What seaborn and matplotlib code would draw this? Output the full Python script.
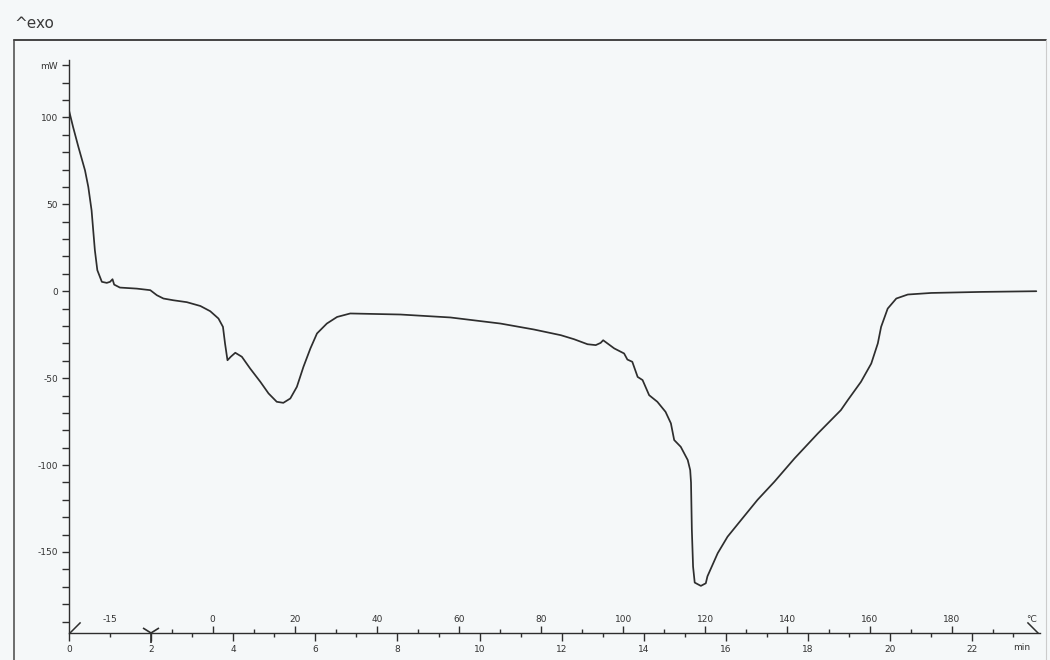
import numpy as np
import pandas as pd
import matplotlib
matplotlib.use("Agg")
import matplotlib.pyplot as plt
from matplotlib.lines import Line2D
from matplotlib.ticker import FixedLocator, NullFormatter, FixedFormatter
import seaborn as sns

# ---- data ----
time_min = [0.00, 0.10, 0.23, 0.39, 0.47, 0.55, 0.59, 0.63, 0.69, 0.80, 0.92, 1.00,
            1.06, 1.10, 1.24, 1.65, 1.98, 2.14, 2.30, 2.54, 2.87, 3.20, 3.44, 3.64,
            3.75, 3.80, 3.86, 3.94, 4.05, 4.21, 4.41, 4.66, 4.86, 5.06, 5.22, 5.39,
            5.55, 5.71, 5.88, 6.04, 6.28, 6.53, 6.85, 8.07, 9.29, 10.51, 11.32, 11.98,
            12.30, 12.63, 12.83, 12.95, 13.01, 13.28, 13.52, 13.60, 13.72, 13.85, 13.97,
            14.13, 14.33, 14.53, 14.66, 14.74, 14.90, 15.07, 15.13, 15.15, 15.17, 15.20,
            15.24, 15.39, 15.51, 15.55, 15.80, 16.04, 16.37, 16.77, 17.18, 17.67, 18.24,
            18.80, 18.97, 19.29, 19.54, 19.70, 19.78, 19.94, 20.15, 20.43, 21.00, 22.22,
            23.56]
heat_flow_mw = [104.0, 94.4, 82.9, 69.5, 60.0, 46.5, 35.0, 23.6, 12.1, 5.4, 4.8, 5.4,
                6.9, 3.8, 2.1, 1.5, 0.6, -2.3, -4.2, -5.2, -6.3, -8.5, -11.5, -15.7,
                -20.5, -30.0, -39.7, -37.7, -35.4, -37.7, -44.4, -52.1, -58.8, -63.6, -64.2, -61.7,
                -55.0, -43.5, -32.9, -24.3, -18.6, -14.8, -12.8, -13.4, -15.1, -18.6, -22.0, -25.3,
                -27.6, -30.5, -31.0, -29.7, -28.2, -32.9, -35.8, -39.3, -40.6, -49.3, -51.1,
                -59.8, -63.6, -69.4, -76.0, -85.6, -89.5, -97.1, -102.9, -110.0, -137.0, -158.4,
                -167.6, -169.5, -168.0, -164.0, -150.7, -141.2, -131.6, -120.0, -109.6, -96.2, -81.8,
                -68.4, -62.6, -52.1, -41.6, -30.0, -20.5, -10.0, -4.2, -1.9, -1.0, -0.4,
                0.0]

time_major_ticks = [0, 2, 4, 6, 8, 10, 12, 14, 16, 18, 20, 22]
time_minor_ticks = [1, 3, 5, 7, 9, 11, 13, 15, 17, 19, 21, 23]
temp_labels = ["-15", "0", "20", "40", "60", "80", "100", "120", "140", "160", "180"]
temp_label_times = [1.0, 3.5, 5.5, 7.5, 9.5, 11.5, 13.5, 15.5, 17.5, 19.5, 21.5]
temp_minor_times = [2.5, 4.5, 6.5, 8.5, 10.5, 12.5, 14.5, 16.5, 18.5, 20.5, 22.5]
y_major_ticks = [-150, -100, -50, 0, 50, 100, 130]
y_major_labels = ["-150", "-100", "-50", "0", "50", "100", "mW"]
y_minor_ticks = list(range(-190, 131, 10))

df = pd.DataFrame({"time": time_min, "mW": heat_flow_mw})

# ---- style ----
sns.set_theme(style="white")
plt.rcParams["font.family"] = ["DejaVu Sans"]
bg = "#f5f8f9"
ink = "#2e2e2e"
txt = "#333333"

W, H = 1050, 660
fig = plt.figure(figsize=(10.5, 6.6), dpi=100, facecolor=bg)

ax_l, ax_r, ax_t, ax_b = 69, 1040, 60, 633
XLIM = (0, 23.65)
ax = fig.add_axes([ax_l / W, 1 - ax_b / H, (ax_r - ax_l) / W, (ax_b - ax_t) / H])
ax.set_facecolor("none")

sns.lineplot(data=df, x="time", y="mW", color=ink, linewidth=1.25, ax=ax,
             estimator=None, sort=False)

ax.set_xlim(*XLIM)
ax.set_ylim(-196.6, 133)
ax.set_xlabel("")
ax.set_ylabel("")

for s in ["top", "right"]:
    ax.spines[s].set_visible(False)
for s in ["left", "bottom"]:
    ax.spines[s].set_color(ink)
    ax.spines[s].set_linewidth(1.0)

# y ticks
ax.yaxis.set_major_locator(FixedLocator(y_major_ticks))
ax.yaxis.set_major_formatter(FixedFormatter(y_major_labels))
ax.yaxis.set_minor_locator(FixedLocator(y_minor_ticks))
ax.tick_params(axis="y", which="both", direction="out", length=5, width=1.0,
               color=ink, labelsize=6.5, labelcolor=txt, left=True, pad=3)

# x (time) ticks below
ax.xaxis.set_major_locator(FixedLocator(time_major_ticks))
ax.xaxis.set_major_formatter(FixedFormatter([str(v) for v in time_major_ticks]))
ax.xaxis.set_minor_locator(FixedLocator(time_minor_ticks))
ax.xaxis.set_minor_formatter(NullFormatter())
ax.tick_params(axis="x", which="major", direction="out", length=6, width=1.0,
               color=ink, labelsize=6.5, labelcolor=txt, bottom=True, pad=3)
ax.tick_params(axis="x", which="minor", direction="out", length=3, width=1.0,
               color=ink, bottom=True)

# temperature axis (ticks above the same line), separate zero-height axes
tax = fig.add_axes([ax_l / W, 1 - ax_b / H, (ax_r - ax_l) / W, 0.00001])
tax.set_facecolor("none")
tax.set_xlim(*XLIM)
for s in tax.spines.values():
    s.set_visible(False)
tax.set_yticks([])
tax.xaxis.tick_top()
tax.xaxis.set_major_locator(FixedLocator(temp_label_times))
tax.xaxis.set_major_formatter(FixedFormatter(temp_labels))
tax.xaxis.set_minor_locator(FixedLocator(temp_minor_times))
tax.xaxis.set_minor_formatter(NullFormatter())
tax.tick_params(axis="x", which="major", direction="out", length=5, width=1.0,
                color=ink, labelsize=6.5, labelcolor=txt, top=True, bottom=False,
                labelbottom=False, labeltop=True, pad=1.5)
tax.tick_params(axis="x", which="minor", direction="out", length=3, width=1.0,
                color=ink, top=True, bottom=False)
tax.xaxis.get_major_ticks()[0].tick2line.set_visible(False)

# unit labels at the right end of the axis
ax.text(23.2, -0.0175, "min", transform=ax.get_xaxis_transform(), ha="center",
        va="top", fontsize=6.5, color=txt)
ax.text(23.45, 0.016, "°C", transform=ax.get_xaxis_transform(), ha="center",
        va="bottom", fontsize=6.5, color=txt)

# segment markers on the time axis
xt = ax.get_xaxis_transform()
ax.plot([0], [0], transform=xt, marker=[(0, 0), (1, 1)], markersize=16,
        color=ink, mew=1.1, mfc="none", clip_on=False)
ax.plot([2], [0], transform=xt, marker="1", markersize=14, color=ink, mew=1.2,
        clip_on=False)
ax.plot([23.6], [0], transform=xt, marker=[(0, 0), (-1, 1)], markersize=16,
        color=ink, mew=1.1, mfc="none", clip_on=False)

# outer frame lines of the printout
fig.add_artist(Line2D([14 / W, 14 / W], [0, 1 - 40 / H], color="#555555", lw=1.2))
fig.add_artist(Line2D([14 / W, 1046 / W], [1 - 40 / H, 1 - 40 / H], color="#444444", lw=1.4))
fig.add_artist(Line2D([1046 / W, 1046 / W], [0, 1 - 40 / H], color="#cccccc", lw=0.8))

fig.text(14 / W, 1 - 24 / H, "^exo", ha="left", va="center", fontsize=11,
         color="#3a3a3a")

fig.savefig("out.png", dpi=100, facecolor=bg)
